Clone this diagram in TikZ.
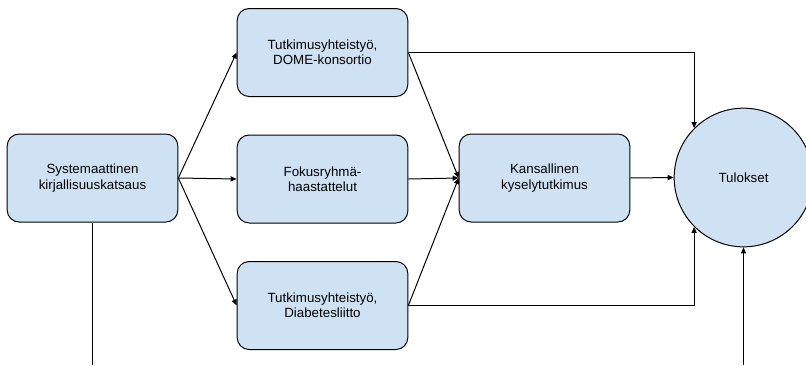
\documentclass[tikz,border=0pt]{standalone}
\usepackage{fontspec}
\setmainfont{Liberation Sans}
\usetikzlibrary{arrows.meta}
\definecolor{boxblue}{HTML}{CFE2F3}
\tikzset{
  box/.style={draw, fill=boxblue, rounded corners=9pt, line width=0.75pt,
    minimum width=128pt, minimum height=66pt, align=center,
    font=\fontsize{10}{11.5}\selectfont},
  ball/.style={draw, fill=boxblue, circle, line width=0.75pt,
    minimum size=104pt, inner sep=0pt, font=\fontsize{10}{11.5}\selectfont},
  link/.style={line width=0.75pt, -{Triangle[length=4.5pt,width=3.8pt]}}
}

\begin{document}
\begin{tikzpicture}[x=0.75pt,y=-0.75pt]
\useasboundingbox (0,0) rectangle (806,365);
\clip (0,0) rectangle (806,365);
\node[box] (1) at (92.5,178) {Systemaattinen\\kirjallisuuskatsaus};
\node[box] (2) at (322.5,52.5) {Tutkimusyhteistyö,\\DOME-konsortio};
\node[box] (3) at (322.5,179) {Fokusryhmä-\\haastattelut};
\node[box] (4) at (322.5,305.5) {Tutkimusyhteistyö,\\Diabetesliitto};
\node[box] (5) at (544.5,178) {Kansallinen\\kyselytutkimus};
\node[ball] (6) at (743.5,177.5) {Tulokset};
\coordinate (7) at (92.5,365);
\coordinate (8) at (743.5,365);
\draw[link] (1.east) -- (2.west);
\draw[link] (1.east) -- (3.west);
\draw[link] (1.east) -- (4.west);
\draw[link] (2.east) -- (5.west);
\draw[link] (3.east) -- (5.west);
\draw[link] (4.east) -- (5.west);
\draw[link] (2.east) -| (6.north west);
\draw[link] (4.east) -| (6.south west);
\draw[link] (5.east) -- (6.west);
\draw[link] (8) -- (6.south);
\draw[line width=0.75pt] (1.south) -- (7);
\end{tikzpicture}
\end{document}
